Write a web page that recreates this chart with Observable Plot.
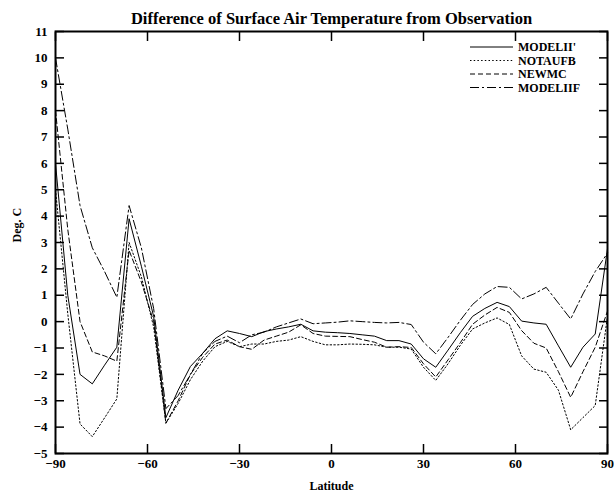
<!DOCTYPE html>
<html>
<head>
<meta charset="utf-8">
<script src="https://cdn.jsdelivr.net/npm/d3@7"></script>
<script src="https://cdn.jsdelivr.net/npm/@observablehq/plot@0.6"></script>
<style>
  html, body { margin: 0; padding: 0; background: #fff; }
  #chart { position: absolute; left: 0; top: 0; }
</style>
</head>
<body>
<div id="chart"></div>
<script>
// ---- data ----
const titleText = "Difference of Surface Air Temperature from Observation";
const xLabel = "Latitude";
const yLabel = "Deg. C";

const latitudes = [-90,-86,-82,-78,-74,-70,-66,-62,-58,-54,-50,-46,-42,-38,-34,-30,-26,-22,-18,-14,-10,-6,-2,
                   2,6,10,14,18,22,26,30,34,38,42,46,50,54,58,62,66,70,74,78,82,86,90];

const seriesNames = ["MODELII'", "NOTAUFB", "NEWMC", "MODELIIF"];

const modelII = [6.0,1.0,-2.0,-2.36,-1.65,-0.97,3.9,2.1,0.2,-3.64,-2.6,-1.7,-1.2,-0.65,-0.35,-0.45,-0.57,-0.38,-0.28,-0.2,-0.1,-0.35,-0.4,
                 -0.42,-0.45,-0.5,-0.55,-0.72,-0.72,-0.85,-1.41,-1.73,-1.08,-0.42,0.2,0.5,0.73,0.57,0.02,-0.05,-0.1,-0.92,-1.73,-0.97,-0.47,2.76];
const notaufb = [5.0,0.3,-3.88,-4.36,-3.65,-2.93,3.0,1.7,-0.2,-3.85,-3.1,-2.2,-1.5,-0.95,-0.75,-0.95,-0.85,-0.85,-0.75,-0.7,-0.57,-0.75,-0.88,
                 -0.88,-0.85,-0.86,-0.88,-0.97,-0.97,-1.04,-1.73,-2.23,-1.6,-0.9,-0.28,-0.05,0.14,-0.11,-1.3,-1.8,-1.92,-2.6,-4.1,-3.64,-3.18,0.2];
const newmc = [8.0,3.5,0.0,-1.15,-1.3,-1.5,2.7,1.5,0.0,-3.85,-3.0,-2.0,-1.35,-0.85,-0.7,-0.95,-1.05,-0.7,-0.55,-0.4,-0.12,-0.45,-0.55,
               -0.56,-0.57,-0.68,-0.78,-0.97,-0.95,-0.98,-1.6,-2.1,-1.45,-0.8,-0.1,0.25,0.54,0.35,-0.34,-0.82,-1.0,-1.9,-2.87,-1.9,-0.97,0.4];
const modelIIF = [10.0,7.3,4.4,2.8,1.9,0.92,4.4,2.8,0.5,-3.3,-2.8,-2.0,-1.2,-0.75,-0.55,-0.8,-0.5,-0.4,-0.2,-0.05,0.1,-0.08,-0.05,
                  -0.02,0.03,0.0,-0.03,-0.05,-0.03,-0.11,-0.78,-1.22,-0.6,0.05,0.65,1.05,1.33,1.3,0.86,1.05,1.3,0.7,0.1,1.05,1.9,2.6];

const xTicks = [-90,-60,-30,0,30,60,90];
const yTicks = [-5,-4,-3,-2,-1,0,1,2,3,4,5,6,7,8,9,10,11];

// ---- styles ----
const seriesDash = ["none", "1.5,2.2", "5,3", "9,3,2,3"];
const FONT = "'Liberation Serif', 'Times New Roman', serif";

const seriesValues = [modelII, notaufb, newmc, modelIIF];
const rows = [];
seriesNames.forEach((name, s) => {
  latitudes.forEach((lat, i) => rows.push({series: name, lat, value: seriesValues[s][i]}));
});

const lineMarks = seriesNames.map((name, s) =>
  Plot.line(rows.filter(r => r.series === name), {
    x: "lat", y: "value", stroke: "black", strokeWidth: 1, strokeDasharray: seriesDash[s]
  })
);

const chart = Plot.plot({
  width: 614,
  height: 495,
  marginLeft: 55,
  marginRight: 7,
  marginTop: 31,
  marginBottom: 42,
  style: {fontFamily: FONT, fontSize: "13px", fontWeight: "bold", background: "white", color: "black"},
  x: {domain: [-90, 90]},
  y: {domain: [-5, 11]},
  marks: [
    ...lineMarks,
    Plot.frame({stroke: "black", strokeWidth: 2}),
    // inward ticks on all four sides
    Plot.axisY(yTicks, {anchor: "left", tickSize: -9, text: null, label: null, strokeWidth: 1.5}),
    Plot.axisY(yTicks, {anchor: "right", tickSize: -9, text: null, label: null, strokeWidth: 1.5}),
    Plot.axisX(xTicks, {anchor: "bottom", tickSize: -9, text: null, label: null, strokeWidth: 1.5}),
    Plot.axisX(xTicks, {anchor: "top", tickSize: -9, text: null, label: null, strokeWidth: 1.5}),
    // tick labels
    Plot.axisY(yTicks, {anchor: "left", tickSize: 0, tickPadding: 8, label: null, fontSize: 13, fontWeight: "bold"}),
    Plot.axisX(xTicks, {anchor: "bottom", tickSize: 0, tickPadding: 5, label: null, fontSize: 13, fontWeight: "bold"}),
    // titles
    Plot.text([titleText], {frameAnchor: "top", dy: -19, fontSize: 16.5, fontWeight: "bold", fill: "black"}),
    Plot.text([xLabel], {frameAnchor: "bottom", dy: 36, fontSize: 12, fontWeight: "bold", fill: "black"}),
    Plot.text([yLabel], {frameAnchor: "left", dx: -38, rotate: -90, fontSize: 12, fontWeight: "bold", fill: "black"})
  ]
});

document.getElementById("chart").appendChild(chart);

// ---- legend (inside top-right of the frame) ----
const svg = d3.select(chart);
const legend = svg.append("g")
  .attr("font-family", FONT).attr("font-weight", "bold").attr("font-size", 12)
  .attr("text-anchor", "start");
seriesNames.forEach((name, s) => {
  const y = 47 + s * 13.5;
  legend.append("line")
    .attr("x1", 470).attr("x2", 513).attr("y1", y).attr("y2", y)
    .attr("stroke", "black").attr("stroke-width", 1)
    .attr("stroke-dasharray", seriesDash[s] === "none" ? null : seriesDash[s]);
  legend.append("text")
    .attr("x", 518).attr("y", y).attr("dy", "0.35em")
    .attr("text-anchor", "start")
    .attr("fill", "black").text(name);
});
</script>
</body>
</html>
